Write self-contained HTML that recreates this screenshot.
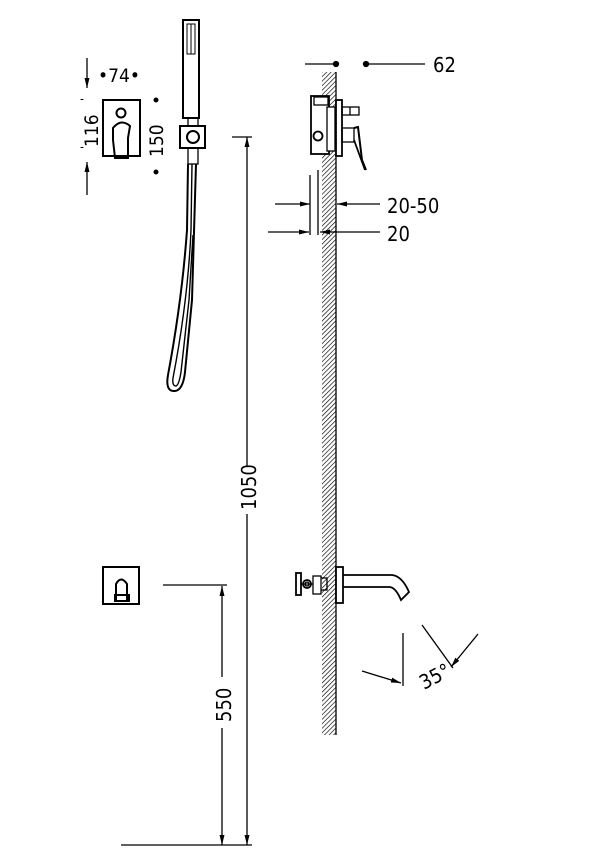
<!DOCTYPE html>
<html><head><meta charset="utf-8"><style>
html,body{margin:0;padding:0;background:#fff}
svg{display:block}
text{font-family:"DejaVu Sans Condensed","Liberation Sans",sans-serif;fill:#000}
</style></head><body>
<svg width="602" height="863" viewBox="0 0 602 863" xmlns="http://www.w3.org/2000/svg">
<defs>
<pattern id="h" width="3.2" height="3.2" patternUnits="userSpaceOnUse" patternTransform="rotate(45)">
<line x1="0" y1="0" x2="0" y2="3.2" stroke="#000" stroke-width="1.3"/>
</pattern>
<marker id="a" markerWidth="10" markerHeight="6" refX="10" refY="3" orient="auto" markerUnits="userSpaceOnUse">
<path d="M0,0.5 L10,3 L0,5.5 Z" fill="#000"/>
</marker>
</defs>
<g stroke="#000" fill="none" stroke-width="1.3">
<line x1="87" y1="58" x2="87" y2="88" marker-end="url(#a)"/>
<line x1="87" y1="195" x2="87" y2="162" marker-end="url(#a)"/>
<rect x="103" y="100" width="37" height="56" stroke-width="2"/>
<circle cx="121" cy="113" r="4.5" stroke-width="2"/>
<path d="M113,128 Q121,118 130,126 L128,138 L128,158 L115,158 L113,140 Z" stroke-width="2"/>
<rect x="183" y="20" width="16" height="98" stroke-width="2"/>
<rect x="187" y="24" width="8" height="30" stroke-width="1"/>
<line x1="191" y1="24" x2="191" y2="54" stroke-width="1"/>
<rect x="188" y="118" width="10" height="8"/>
<rect x="180" y="126" width="25" height="22" stroke-width="2"/>
<circle cx="193" cy="137" r="6" stroke-width="2"/>
<rect x="188" y="148" width="10" height="16"/>
<path d="M188,164 L187,230 Q182,300 168,375 Q165,392 175,391 Q183,390 185,372 L192,300 L196,164" stroke-width="2"/>
<path d="M192,164 L191,230 Q188,300 173,378 Q172,386 176,386 Q179,385 181,372 L189,300 L193,235" stroke-width="1.4"/>
<line x1="232" y1="137" x2="252" y2="137"/>
<line x1="247" y1="466" x2="247" y2="137" marker-end="url(#a)"/>
<line x1="247" y1="514" x2="247" y2="845" marker-end="url(#a)"/>
<line x1="163" y1="585" x2="227" y2="585"/>
<line x1="222" y1="677" x2="222" y2="586" marker-end="url(#a)"/>
<line x1="222" y1="728" x2="222" y2="845" marker-end="url(#a)"/>
<line x1="121" y1="845" x2="252" y2="845"/>
<rect x="103" y="567" width="36" height="37" stroke-width="2"/>
<path d="M116,600 L116,584 Q121,575 127,584 L127,600" stroke-width="2"/>
<rect x="115" y="595" width="14" height="6" stroke-width="2"/>
</g>
<rect x="322" y="72" width="14" height="663" fill="url(#h)"/>
<g stroke="#000" fill="none" stroke-width="1.3">
<line x1="336" y1="72" x2="336" y2="735"/>
<line x1="305" y1="64" x2="336" y2="64"/>
<circle cx="336" cy="64" r="2.5" fill="#000"/>
<circle cx="366" cy="64" r="2.5" fill="#000"/>
<line x1="366" y1="64" x2="425" y2="64"/>
<rect x="311" y="96" width="18" height="58" fill="#fff" stroke-width="1.8"/>
<rect x="314" y="97" width="14" height="8" fill="#fff"/>
<circle cx="318" cy="136" r="4.5" stroke-width="1.8"/>
<rect x="327" y="107" width="8" height="44" fill="#fff"/>
<rect x="336" y="100" width="6" height="56" fill="#fff" stroke-width="1.8"/>
<rect x="342" y="107" width="17" height="8"/>
<line x1="350" y1="107" x2="350" y2="115"/>
<rect x="342" y="128" width="12" height="14"/>
<path d="M354,128 L358,127 L362,160 L366,170" stroke-width="2"/>
<line x1="354" y1="140" x2="365" y2="170" stroke-width="1.8"/>
<line x1="310" y1="175" x2="310" y2="235"/>
<line x1="318" y1="170" x2="318" y2="235"/>
<line x1="275" y1="204" x2="310" y2="204" marker-end="url(#a)"/>
<line x1="380" y1="204" x2="337" y2="204" marker-end="url(#a)"/>
<line x1="268" y1="232" x2="309" y2="232" marker-end="url(#a)"/>
<line x1="380" y1="232" x2="320" y2="232" marker-end="url(#a)"/>
<rect x="336" y="567" width="7" height="36" fill="#fff" stroke-width="1.8"/>
<path d="M343,575 L392,575 Q402,576 409,592 L401,600 Q396,588 390,587 L343,587" stroke-width="1.8"/>
<rect x="320" y="578" width="7" height="12"/>
<rect x="313" y="576" width="8" height="18" fill="#fff"/>
<circle cx="307" cy="584" r="4" stroke-width="1.8"/>
<circle cx="307" cy="584" r="2"/>
<rect x="296" y="573" width="5" height="22" fill="#fff" stroke-width="1.8"/>
<line x1="301" y1="584" x2="313" y2="584"/>
<line x1="403" y1="633" x2="403" y2="686"/>
<line x1="362" y1="671" x2="401" y2="683" marker-end="url(#a)"/>
<line x1="422" y1="625" x2="453" y2="668"/>
<line x1="478" y1="634" x2="451" y2="667" marker-end="url(#a)"/>
</g>
<text x="98" y="82" font-size="19">•74•</text>
<text font-size="19" transform="translate(98,147) rotate(-90)">116</text>
<text font-size="19" transform="translate(163,157) rotate(-90)">150</text>
<text x="80" y="103" font-size="12">-</text>
<text x="80" y="151" font-size="12">-</text>
<circle cx="156" cy="100" r="2.5" fill="#000"/>
<circle cx="156" cy="172" r="2.5" fill="#000"/>
<text x="433" y="72" font-size="20">62</text>
<text x="387" y="213" font-size="20">20-50</text>
<text x="387" y="241" font-size="20">20</text>
<text font-size="20" transform="translate(256,510) rotate(-90)">1050</text>
<text font-size="20" transform="translate(231,722) rotate(-90)">550</text>
<text font-size="20" transform="translate(424,690) rotate(-28)">35°</text>
</svg>
</body></html>
